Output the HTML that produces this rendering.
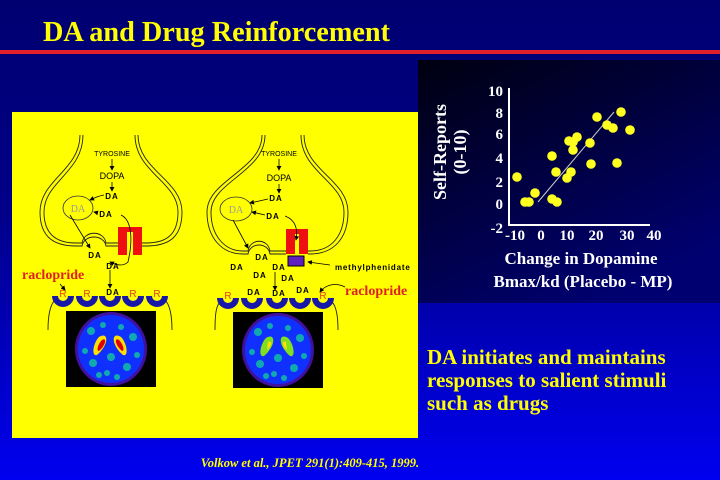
<!DOCTYPE html>
<html><head><meta charset="utf-8"><style>
html,body{margin:0;padding:0;width:720px;height:480px;overflow:hidden}
</style></head><body>
<svg width="720" height="480" viewBox="0 0 720 480" xmlns="http://www.w3.org/2000/svg">
<defs>
<linearGradient id="bg" x1="0" y1="0" x2="0" y2="1">
<stop offset="0" stop-color="#000070"/><stop offset="0.45" stop-color="#00008a"/><stop offset="1" stop-color="#0000f0"/>
</linearGradient>
<linearGradient id="cb" x1="0" y1="0" x2="0.6" y2="1">
<stop offset="0" stop-color="#000010"/><stop offset="1" stop-color="#000070"/>
</linearGradient>
<marker id="ah" markerWidth="6" markerHeight="6" refX="5" refY="3" orient="auto"><path d="M0,0 L6,3 L0,6 z" fill="#000"/></marker>
<path id="cup" d="M-11,0 A11,11 0 0 0 11,0 L5,0 A5,5 0 0 1 -5,0 Z" fill="#1818a8"/>
<g id="brain">
<rect x="-45" y="-38" width="90" height="76" fill="#000"/>
<ellipse cx="0" cy="0" rx="36" ry="37" fill="#4010a0"/>
<ellipse cx="0" cy="0" rx="33" ry="34" fill="#1030ff"/>
<g fill="#10c0a0" opacity="0.85">
<circle cx="-20" cy="-18" r="4"/><circle cx="-8" cy="-24" r="3"/><circle cx="10" cy="-22" r="3"/><circle cx="22" cy="-12" r="4"/>
<circle cx="-26" cy="2" r="3"/><circle cx="-18" cy="14" r="4"/><circle cx="26" cy="6" r="3"/><circle cx="16" cy="18" r="4"/>
<circle cx="-4" cy="24" r="3"/><circle cx="6" cy="28" r="3"/><circle cx="-12" cy="26" r="3"/><circle cx="0" cy="8" r="4"/>
</g>
</g>
</defs>
<rect width="720" height="480" fill="url(#bg)"/>
<text x="43" y="41" font-family="Liberation Serif" font-weight="bold" font-size="29" fill="#ffff00" textLength="347" lengthAdjust="spacingAndGlyphs">DA and Drug Reinforcement</text>
<rect x="0" y="50" width="720" height="4" fill="#e0202a"/>

<rect x="418" y="60" width="302" height="243" fill="url(#cb)"/>
<g font-family="Liberation Serif" font-weight="bold" fill="#fff">
<text transform="translate(446,152) rotate(-90)" text-anchor="middle" font-size="18">Self-Reports</text>
<text transform="translate(466,152) rotate(-90)" text-anchor="middle" font-size="18">(0-10)</text>
<g font-size="15" text-anchor="end">
<text x="503" y="96">10</text><text x="503" y="118">8</text><text x="503" y="139">6</text><text x="503" y="163">4</text><text x="503" y="187">2</text><text x="503" y="209">0</text><text x="503" y="233">-2</text>
</g>
<g font-size="15" text-anchor="middle">
<text x="515" y="240">-10</text><text x="541" y="240">0</text><text x="567" y="240">10</text><text x="596" y="240">20</text><text x="627" y="240">30</text><text x="654" y="240">40</text>
</g>
<text x="581" y="264" text-anchor="middle" font-size="17">Change in Dopamine</text>
<text x="583" y="287" text-anchor="middle" font-size="17">Bmax/kd (Placebo - MP)</text>
</g>
<path d="M509,88 V225 H650" stroke="#fff" stroke-width="2" fill="none"/>
<line x1="538" y1="202" x2="614" y2="112" stroke="#ccc" stroke-width="1"/>
<g fill="#ffff20">
<circle cx="517" cy="177" r="4.8"/><circle cx="525" cy="202" r="4.8"/><circle cx="529" cy="202" r="4.8"/><circle cx="535" cy="193" r="4.8"/>
<circle cx="552" cy="156" r="4.8"/><circle cx="552" cy="199" r="4.8"/><circle cx="557" cy="202" r="4.8"/><circle cx="556" cy="172" r="4.8"/>
<circle cx="567" cy="178" r="4.8"/><circle cx="571" cy="172" r="4.8"/><circle cx="569" cy="141" r="4.8"/><circle cx="573" cy="142" r="4.8"/>
<circle cx="573" cy="150" r="4.8"/><circle cx="577" cy="137" r="4.8"/><circle cx="590" cy="143" r="4.8"/><circle cx="591" cy="164" r="4.8"/>
<circle cx="597" cy="117" r="4.8"/><circle cx="607" cy="125" r="4.8"/><circle cx="613" cy="128" r="4.8"/><circle cx="617" cy="163" r="4.8"/>
<circle cx="621" cy="112" r="4.8"/><circle cx="630" cy="130" r="4.8"/>
</g>

<g font-family="Liberation Serif" font-weight="bold" font-size="21" fill="#ffff00">
<text x="427" y="364">DA initiates and maintains</text>
<text x="427" y="387">responses to salient stimuli</text>
<text x="427" y="410">such as drugs</text>
</g>
<text x="310" y="467" text-anchor="middle" font-family="Liberation Serif" font-weight="bold" font-style="italic" font-size="12.5" fill="#ffff00">Volkow et al., JPET 291(1):409-415, 1999.</text>

<rect x="12" y="112" width="406" height="326" fill="#ffff00"/>
<g fill="none" stroke="#222" stroke-width="0.9">
<path d="M80,135 C80,170 40,180 40,212 C40,238 55,246 76,246 L82,246 C84,234 104,234 106,246 L118,246"/>
<path d="M83,135 C83,172 44,182 44,212 C44,235 57,243 76,243 L82,243 C84,230 104,230 106,243 L118,243"/>
<path d="M138,135 C138,170 182,180 182,212 C182,238 168,246 146,246 L141,246"/>
<path d="M135,135 C135,172 178,182 178,212 C178,235 166,243 146,243 L141,243"/>
<path d="M48,330 C48,315 50,305 55,300"/><path d="M172,330 C172,315 170,305 165,300"/>
<path d="M262,135 C262,170 207,180 207,212 C207,238 222,254 243,254 L248,254 C250,242 268,242 270,254 L286,254"/>
<path d="M265,135 C265,172 211,182 211,212 C211,235 224,251 243,251 L248,251 C250,238 268,238 270,251 L286,251"/>
<path d="M304,135 C304,170 348,180 348,212 C348,238 334,254 310,254 L308,254"/>
<path d="M301,135 C301,172 344,182 344,212 C344,235 332,251 310,251 L308,251"/>
<path d="M215,330 C215,315 216,306 220,302"/><path d="M338,330 C338,315 336,306 332,302"/>
</g>
<ellipse cx="78" cy="208" rx="15" ry="12" fill="none" stroke="#333" stroke-width="0.8"/>
<ellipse cx="236" cy="209" rx="16" ry="12" fill="none" stroke="#333" stroke-width="0.8"/>
<g font-family="Liberation Serif" font-size="10" fill="#999" text-anchor="middle"><text x="78" y="212">DA</text><text x="236" y="213">DA</text></g>
<rect x="118" y="227" width="24" height="28" fill="#ee1010"/><rect x="127" y="232" width="6" height="23" fill="#ffff00"/>
<rect x="286" y="229" width="22" height="25" fill="#ee1010"/><rect x="295" y="234" width="4" height="20" fill="#ffff00"/>
<rect x="288" y="256" width="16" height="10" fill="#6020c0" stroke="#000" stroke-width="1"/>

<g font-family="Liberation Sans" fill="#000">
<g font-size="7" text-anchor="middle"><text x="112" y="156">TYROSINE</text><text x="279" y="156">TYROSINE</text></g>
<g font-size="9" text-anchor="middle"><text x="112" y="179">DOPA</text><text x="279" y="181">DOPA</text></g>
<g font-size="8" font-weight="bold" text-anchor="middle" letter-spacing="1">
<text x="112" y="199">DA</text><text x="106" y="217">DA</text><text x="95" y="258">DA</text><text x="113" y="269">DA</text><text x="113" y="295">DA</text>
<text x="276" y="201">DA</text><text x="273" y="219">DA</text><text x="262" y="260">DA</text><text x="237" y="270">DA</text><text x="260" y="278">DA</text>
<text x="279" y="270">DA</text><text x="288" y="281">DA</text><text x="254" y="295">DA</text><text x="279" y="296">DA</text><text x="303" y="293">DA</text>
</g>
<text x="335" y="270" font-size="8" font-weight="bold" letter-spacing="0.8">methylphenidate</text>
</g>
<g font-family="Liberation Serif" font-weight="bold" font-size="14" fill="#e02020">
<text x="22" y="279">raclopride</text><text x="345" y="295">raclopride</text>
</g>
<g stroke="#000" stroke-width="0.8" fill="none" marker-end="url(#ah)">
<line x1="112" y1="159" x2="112" y2="170"/><line x1="112" y1="182" x2="112" y2="191"/>
<path d="M104,195 C98,196 94,198 90,200"/><path d="M98,213 L94,212"/>
<path d="M70,215 L90,248"/><path d="M121,215 C132,220 133,240 128,262 C124,266 118,266 110,262" />
<line x1="110" y1="270" x2="110" y2="288"/>
<path d="M60,284 L65,290"/>
<line x1="279" y1="159" x2="279" y2="170"/><line x1="279" y1="184" x2="279" y2="193"/>
<path d="M268,199 L250,203"/><path d="M265,215 L252,212"/>
<path d="M233,220 L248,248"/><path d="M285,216 C296,220 298,230 296,240"/>
<line x1="275" y1="272" x2="275" y2="290"/>
<line x1="330" y1="265" x2="308" y2="262"/>
<path d="M345,287 C335,282 325,285 320,292"/>
</g>
<use href="#cup" x="63" y="296"/><use href="#cup" x="87" y="296"/><use href="#cup" x="110" y="296"/><use href="#cup" x="133" y="296"/><use href="#cup" x="157" y="296"/>
<use href="#cup" x="228" y="298"/><use href="#cup" x="252" y="298"/><use href="#cup" x="277" y="298"/><use href="#cup" x="300" y="298"/><use href="#cup" x="323" y="298"/>
<g font-family="Liberation Sans" font-size="10" fill="#e04010" text-anchor="middle">
<text x="63" y="297">R</text><text x="87" y="297">R</text><text x="133" y="297">R</text><text x="157" y="297">R</text>
<text x="228" y="299">R</text><text x="323" y="299">R</text>
</g>
<g transform="translate(111,349)"><use href="#brain"/>
<path d="M-12,-12 C-2,-18 -2,-4 -14,6 C-20,8 -18,-6 -12,-12z" fill="#ffe000"/><path d="M-9,-9 C-4,-12 -5,-4 -12,2 C-15,2 -13,-5 -9,-9z" fill="#e00000"/>
<path d="M10,-12 C0,-18 0,-4 12,6 C18,8 16,-6 10,-12z" fill="#ffe000"/><path d="M8,-9 C3,-12 4,-4 11,2 C14,2 12,-5 8,-9z" fill="#e00000"/>
</g>
<g transform="translate(278,350)"><use href="#brain"/>
<path d="M-12,-12 C-2,-18 -2,-4 -14,6 C-20,8 -18,-6 -12,-12z" fill="#80e020"/><path d="M-10,-8 C-5,-10 -6,-4 -11,0z" fill="#ffe000"/>
<path d="M10,-12 C0,-18 0,-4 12,6 C18,8 16,-6 10,-12z" fill="#80e020"/><path d="M8,-8 C3,-10 4,-4 9,0z" fill="#ffe000"/>
</g>
</svg>
</body></html>
